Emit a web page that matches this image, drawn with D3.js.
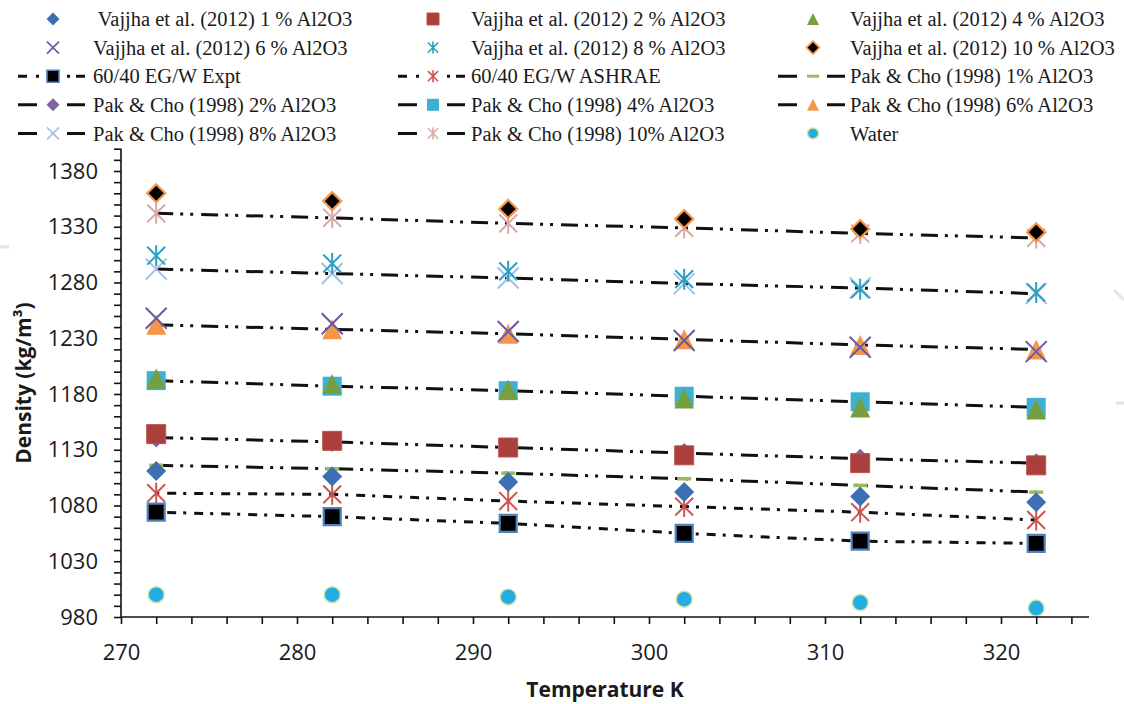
<!DOCTYPE html>
<html>
<head>
<meta charset="utf-8">
<script src="https://cdn.jsdelivr.net/npm/d3@7"></script>
<style>
  html, body { margin: 0; padding: 0; background: #fff; }
  svg { display: block; }
  .legend text { font-family: "Liberation Serif", "Times New Roman", serif; font-size: 20.5px; fill: #1a1a1a; white-space: pre; }
  .axis text { font-family: "Open Sans", sans-serif; font-size: 22px; fill: #1a1a1a; }
  .title { font-family: "Open Sans", sans-serif; font-weight: bold; font-size: 21px; fill: #1a1a1a; }
</style>
</head>
<body>
<div id="chart"></div>
<script>
// temperatures (K)
const temps = [272, 282, 292, 302, 312, 322];

// density values (kg/m3)
const vajjha1 = [1111, 1106, 1101, 1092, 1088, 1083];
const vajjha2 = [1144, 1138, 1132, 1125, 1118, 1116];
const vajjha4 = [1194, 1189, 1184, 1176, 1168, 1166];
const vajjha6 = [1248, 1243, 1236, 1228, 1222, 1218];
const vajjha8 = [1304, 1297, 1290, 1283, 1274, 1271];
const vajjha10 = [1360, 1353, 1346, 1337, 1328, 1325];
const egwExpt = [1074, 1070, 1064, 1055, 1048, 1046];
const egwAshrae = [1091, 1090, 1084, 1079, 1074, 1067];
const pak1 = [1116, 1113, 1109, 1104, 1098, 1092];
const pak2 = [1141, 1137, 1132, 1127, 1122, 1118];
const pak4 = [1192, 1187, 1183, 1178, 1173, 1168];
const pak6 = [1242, 1238, 1234, 1229, 1224, 1220];
const pak8 = [1292, 1288, 1284, 1279, 1275, 1270];
const pak10 = [1342, 1338, 1333, 1329, 1324, 1320];
const water = [1000, 1000, 998, 996, 993, 988];

const yTickLabels = [980, 1030, 1080, 1130, 1180, 1230, 1280, 1330, 1380];
const xTickLabels = [270, 280, 290, 300, 310, 320];

// series: label, values, marker, line style ('pak', 'egw' or none)
const series = [
    {name: ' Vajjha et al. (2012) 1 % Al2O3', values: vajjha1, marker: 'diamond', fill: '#3f6fb3', stroke: 'none', line: null},
    {name: 'Vajjha et al. (2012) 2 % Al2O3', values: vajjha2, marker: 'square', fill: '#ab3f3b', stroke: '#c0504d', line: null},
    {name: 'Vajjha et al. (2012) 4 % Al2O3', values: vajjha4, marker: 'triangle', fill: '#76a040', stroke: 'none', line: null},
    {name: 'Vajjha et al. (2012) 6 % Al2O3', values: vajjha6, marker: 'x', fill: 'none', stroke: '#6a5aa4', line: null},
    {name: 'Vajjha et al. (2012) 8 % Al2O3', values: vajjha8, marker: 'star', fill: 'none', stroke: '#2a9fc0', line: null},
    {name: 'Vajjha et al. (2012) 10 % Al2O3', values: vajjha10, marker: 'diamond', fill: '#000', stroke: '#f79646', line: null},
    {name: '60/40 EG/W Expt', values: egwExpt, marker: 'square', fill: '#000', stroke: '#4f81bd', line: 'egw'},
    {name: '60/40 EG/W ASHRAE', values: egwAshrae, marker: 'star', fill: 'none', stroke: '#d0554e', line: 'egw'},
    {name: 'Pak & Cho (1998) 1% Al2O3', values: pak1, marker: 'dash', fill: 'none', stroke: '#9bbb59', line: 'pak'},
    {name: 'Pak & Cho (1998) 2% Al2O3', values: pak2, marker: 'diamond', fill: '#8064a2', stroke: 'none', line: 'pak'},
    {name: 'Pak & Cho (1998) 4% Al2O3', values: pak4, marker: 'square', fill: '#3eb0d2', stroke: 'none', line: 'pak'},
    {name: 'Pak & Cho (1998) 6% Al2O3', values: pak6, marker: 'triangle', fill: '#f79646', stroke: 'none', line: 'pak'},
    {name: 'Pak & Cho (1998) 8% Al2O3', values: pak8, marker: 'x', fill: 'none', stroke: '#a3bfe4', line: 'pak'},
    {name: 'Pak & Cho (1998) 10% Al2O3', values: pak10, marker: 'star', fill: 'none', stroke: '#d9a8a8', line: 'pak'},
    {name: 'Water', values: water, marker: 'circle', fill: '#22ade3', stroke: '#d6e3a6', line: null}
];

const W = 1124, H = 704;
const svg = d3.select('#chart').append('svg')
    .attr('width', W)
    .attr('height', H);

const x = d3.scaleLinear().domain([270, 325]).range([121, 1089]);
const y = d3.scaleLinear().domain([980, 1400]).range([617, 617 - 420 * 1.115]);

function markerPath(type, r) {
    switch (type) {
        case 'diamond': return `M0,${-r}L${r},0L0,${r}L${-r},0Z`;
        case 'square': return `M${-r},${-r}H${r}V${r}H${-r}Z`;
        case 'triangle': return `M0,${-r}L${r},${r}H${-r}Z`;
        case 'x': return `M${-r},${-r}L${r},${r}M${r},${-r}L${-r},${r}`;
        case 'star': return `M${-r * 0.85},${-r * 0.85}L${r * 0.85},${r * 0.85}M${r * 0.85},${-r * 0.85}L${-r * 0.85},${r * 0.85}M0,${-r}V${r}`;
        case 'dash': return `M${-r},0H${r}`;
        case 'circle': return d3.arc()({innerRadius: 0, outerRadius: r, startAngle: 0, endAngle: 2 * Math.PI});
    }
}

function drawMarker(g, s, cx, cy, big) {
    let r;
    let sw = 1;
    if (s.marker === 'diamond') r = big ? (s.fill === '#000' ? 9 : 10) : 6.5;
    else if (s.marker === 'square') r = big ? (s.fill === '#000' ? 8.5 : 9.5) : 6;
    else if (s.marker === 'triangle') r = big ? 10 : 6;
    else if (s.marker === 'x' || s.marker === 'star') r = big ? 10.5 : 6;
    else if (s.marker === 'dash') r = big ? 7 : 6;
    else r = big ? 8 : 5.5;

    if (s.marker === 'x' || s.marker === 'star') sw = big ? 2 : 1.6;
    else if (s.marker === 'dash') sw = big ? 3.5 : 3;
    else if (s.fill === '#000') sw = big ? 2.2 : 1.6;
    else if (s.marker === 'circle') sw = 1.5;

    g.append('path')
        .attr('transform', `translate(${cx},${cy})`)
        .attr('d', markerPath(s.marker, r))
        .attr('fill', s.fill)
        .attr('stroke', s.stroke)
        .attr('stroke-width', sw);
}

// lines (drawn under the markers)
const dashes = {pak: '17,7,3,7,3,8', egw: '3,8,9,7'};
const lineGen = d3.line().x((d, i) => x(temps[i])).y(d => y(d));
svg.append('g').attr('class', 'lines')
    .selectAll('path')
    .data(series.filter(s => s.line))
    .enter().append('path')
    .attr('d', s => lineGen(s.values))
    .attr('fill', 'none')
    .attr('stroke', '#111')
    .attr('stroke-width', 3)
    .attr('stroke-dasharray', s => dashes[s.line]);

// markers: Pak & Cho first, then EG/W, Vajjha, water on top
const drawOrder = [8, 9, 10, 11, 12, 13, 6, 7, 0, 1, 2, 3, 4, 5, 14];
const markers = svg.append('g').attr('class', 'markers');
drawOrder.forEach(k => {
    const s = series[k];
    s.values.forEach((v, i) => drawMarker(markers, s, x(temps[i]), y(v), true));
});

// axes
const yAxis = d3.axisLeft(y)
    .tickValues(d3.range(980, 1401, 10))
    .tickSize(7)
    .tickPadding(16)
    .tickFormat(d => yTickLabels.includes(d) ? d : '');
const gy = svg.append('g').attr('class', 'axis')
    .attr('transform', `translate(${x(270)},0)`)
    .call(yAxis);

const xAxis = d3.axisBottom(x)
    .tickValues(d3.range(270, 325, 2))
    .tickSize(7)
    .tickPadding(20)
    .tickFormat(d => xTickLabels.includes(d) ? d : '');
const gx = svg.append('g').attr('class', 'axis')
    .attr('transform', `translate(0,${y(980)})`)
    .call(xAxis);

svg.selectAll('.axis path, .axis line')
    .attr('stroke', '#111')
    .attr('stroke-width', 1.6);
gy.select('.domain').attr('d', `M0,${y(1400)}V${y(980)}`);
gx.select('.domain').attr('d', `M${x(270)},0H${x(325)}`);

// axis titles
svg.append('text')
    .attr('class', 'title')
    .attr('x', 605)
    .attr('y', 697)
    .attr('text-anchor', 'middle')
    .text('Temperature K');

svg.append('text')
    .attr('class', 'title')
    .attr('transform', 'translate(31,383) rotate(-90)')
    .attr('text-anchor', 'middle')
    .text('Density (kg/m³)');

// legend, 3 columns x 5 rows
const legend = svg.append('g').attr('class', 'legend');
const colMarkerX = [53, 433, 813];
const colTextX = [93, 471, 850];
series.forEach((s, k) => {
    const col = k % 3;
    const row = Math.floor(k / 3);
    const cx = colMarkerX[col];
    const cy = 19 + row * 28.6;
    const g = legend.append('g');
    if (s.line === 'pak') {
        g.append('path')
            .attr('d', `M${cx - 35},${cy}H${cx - 16}M${cx + 14},${cy}H${cx + 32}`)
            .attr('stroke', '#111').attr('stroke-width', 3);
    } else if (s.line === 'egw') {
        g.append('path')
            .attr('d', `M${cx - 35},${cy}H${cx - 26}M${cx - 17},${cy}H${cx - 14}M${cx + 14},${cy}H${cx + 17}M${cx + 23},${cy}H${cx + 32}`)
            .attr('stroke', '#111').attr('stroke-width', 3);
    }
    drawMarker(g, s, cx, cy, false);
    g.append('text')
        .attr('x', colTextX[col])
        .attr('y', cy)
        .attr('dy', '0.35em')
        .text(s.name);
});

// faint scan marks at the edges of the original
svg.append('path')
    .attr('d', 'M0,247H9M1116,403H1124M1114,290L1124,300')
    .attr('stroke', '#e4e4e4')
    .attr('stroke-width', 3);
</script>
</body>
</html>
